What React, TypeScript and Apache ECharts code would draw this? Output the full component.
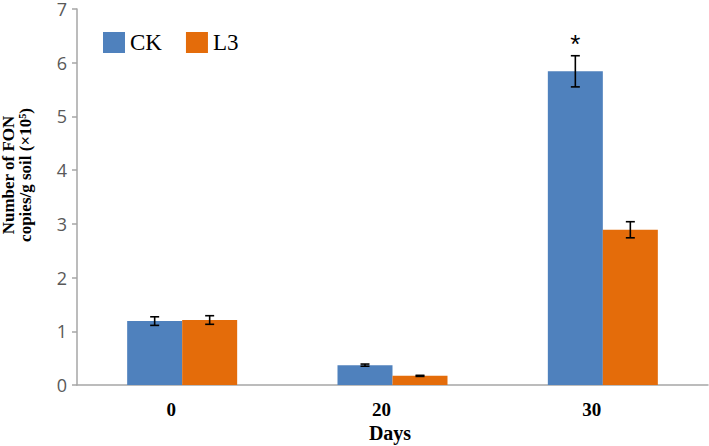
import React, { useEffect, useRef } from "react";
import * as echarts from "echarts";

const categories = ["0", "20", "30"];
const ckValues = [1.19, 0.37, 5.84];
const l3Values = [1.21, 0.17, 2.89];
const ckErrors = [0.08, 0.02, 0.29];
const l3Errors = [0.08, 0.01, 0.15];
const ckMarks = ["", "", "*"];
const l3Marks = ["", "", ""];
const yTicks = [0, 1, 2, 3, 4, 5, 6, 7];

const BLUE = "#4F81BD";
const ORANGE = "#E46C0A";
const BAR_W = 55;

function errorSeries(name: string, values: number[], errors: number[], marks: string[], offset: number) {
  return {
    type: "custom",
    name: name + "-err",
    silent: true,
    z: 10,
    data: values.map((v, i) => [i, v, errors[i]]),
    encode: { x: 0, y: 1 },
    renderItem: (params: any, api: any) => {
      const i = api.value(0);
      const v = api.value(1);
      const e = api.value(2);
      const c = api.coord([i, v]);
      const x = c[0] + offset;
      const top = api.coord([i, v + e])[1];
      const bot = api.coord([i, v - e])[1];
      const cap = 4.5;
      const st = { stroke: "#000", lineWidth: 1.6 };
      const children: any[] = [
        { type: "line", shape: { x1: x, y1: top, x2: x, y2: bot }, style: st },
        { type: "line", shape: { x1: x - cap, y1: top, x2: x + cap, y2: top }, style: st },
        { type: "line", shape: { x1: x - cap, y1: bot, x2: x + cap, y2: bot }, style: st },
      ];
      const m = marks[params.dataIndex];
      if (m) {
        children.push({
          type: "text",
          style: {
            text: m,
            x: x,
            y: top - 12,
            align: "center",
            verticalAlign: "middle",
            fontSize: 26,
            fontFamily: "Liberation Sans",
            fill: "#000",
          },
        });
      }
      return { type: "group", children };
    },
  };
}

export default function App() {
  const ref = useRef<HTMLDivElement>(null);
  useEffect(() => {
    if (!ref.current) return;
    const chart = echarts.init(ref.current, undefined, { renderer: "svg" });
    chart.setOption({
      animation: false,
      grid: { left: 77, right: 1, top: 8, bottom: 61, containLabel: false },
      legend: {
        left: 98,
        top: 26,
        itemWidth: 22,
        itemHeight: 21,
        itemGap: 24,
        icon: "rect",
        data: ["CK", "L3"],
        textStyle: { fontFamily: "Liberation Serif", fontSize: 23, color: "#000" },
      },
      xAxis: {
        type: "category",
        data: categories,
        axisLine: { lineStyle: { color: "#A6A6A6", width: 1.5 } },
        axisTick: { show: false },
        axisLabel: {
          margin: 15,
          fontFamily: "Liberation Serif",
          fontWeight: "bold",
          fontSize: 19,
          color: "#000",
          padding: [0, 22, 0, 0],
        },
      },
      yAxis: {
        type: "value",
        min: yTicks[0],
        max: yTicks[yTicks.length - 1],
        interval: 1,
        splitLine: { show: false },
        axisLine: { show: true, lineStyle: { color: "#A6A6A6", width: 1.5 } },
        axisTick: { show: true, length: 5, lineStyle: { color: "#A6A6A6", width: 1.5 } },
        axisLabel: { fontFamily: "Open Sans", fontSize: 18, color: "#595959", margin: 10 },
      },
      graphic: [
        {
          type: "text",
          x: 17,
          y: 175,
          rotation: Math.PI / 2,
          style: {
            text: "Number of FON\ncopies/g soil (×10⁵)",
            align: "center",
            verticalAlign: "middle",
            fontFamily: "Liberation Serif",
            fontWeight: "bold",
            fontSize: 17,
            lineHeight: 17,
            fill: "#000",
          },
        },
        {
          type: "text",
          x: 390,
          y: 433,
          style: {
            text: "Days",
            align: "center",
            verticalAlign: "middle",
            fontFamily: "Liberation Serif",
            fontWeight: "bold",
            fontSize: 20,
            fill: "#000",
          },
        },
      ],
      series: [
        { type: "bar", name: "CK", data: ckValues, barWidth: BAR_W, barGap: "0%", itemStyle: { color: BLUE } },
        { type: "bar", name: "L3", data: l3Values, barWidth: BAR_W, barGap: "0%", itemStyle: { color: ORANGE } },
        errorSeries("CK", ckValues, ckErrors, ckMarks, -BAR_W / 2),
        errorSeries("L3", l3Values, l3Errors, l3Marks, BAR_W / 2),
      ],
    });
    return () => chart.dispose();
  }, []);
  return <div ref={ref} style={{ width: 709, height: 446, position: "absolute", left: 0, top: 0 }} />;
}
